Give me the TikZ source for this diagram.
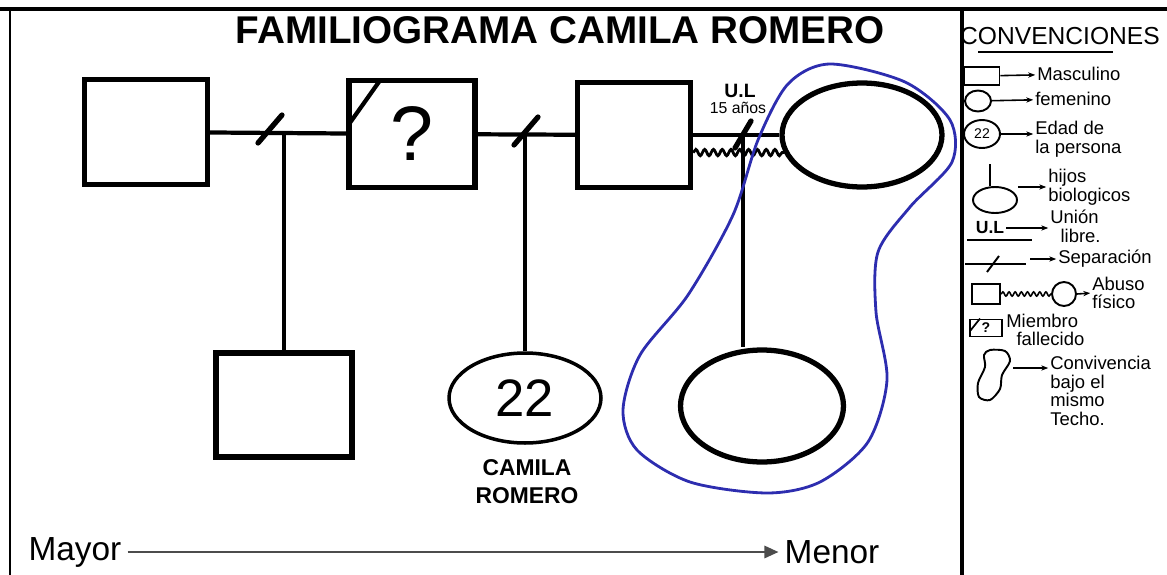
\documentclass[tikz,border=0pt]{standalone}
\usepackage{fontspec}
\setmainfont{Liberation Sans}
\usepackage{tikz}
\usetikzlibrary{arrows.meta,shapes.geometric,decorations.pathmorphing}
\definecolor{azul}{RGB}{45,45,175}

\begin{document}
\begin{tikzpicture}[x=0.02cm, y=-0.02cm,
  hombre/.style={draw, rectangle, line width=3pt, inner sep=0pt},
  mujer/.style={draw, ellipse, line width=3pt, inner sep=0pt},
  lazo/.style={line width=2.4pt},
  corte/.style={line width=3pt, line cap=round},
  abuso/.style={line width=1.6pt, decorate, decoration={snake, amplitude=1.8pt, segment length=5pt}},
  leyenda/.style={draw, line width=1.1pt, inner sep=0pt},
  flecha/.style={line width=0.9pt, -{Stealth[length=4pt]}, shorten >=1pt},
  txt/.style={inner sep=0pt, anchor=west, align=left, font=\fontsize{10.5}{10.6}\selectfont}]
\useasboundingbox (0,0) rectangle (1167,575);
%\draw [help lines, step=50](0,0) grid (1167,575);

% hoja
\draw [line width=2pt] (0,9) -- (1167,9);
\draw [line width=1pt] (10,9) -- (10,575);
\draw [line width=2.6pt] (962,9) -- (962,575);

\node [font=\bfseries\fontsize{22}{22}\selectfont] (titulo) at (560,30) {FAMILIOGRAMA CAMILA ROMERO};

% primera generacion
\node [hombre, minimum width=2.46cm, minimum height=2.1cm] (abuelo) at (146,132) {};
\node [hombre, minimum width=2.52cm, minimum height=2.14cm, font=\fontsize{44}{44}\selectfont] (fallecido) at (412,134) {?};
\node [hombre, minimum width=2.26cm, minimum height=2.1cm] (padre) at (634,135) {};
\node [mujer, minimum width=3.2cm, minimum height=2.08cm] (madre) at (862,135) {};

% hijos
\node [hombre, minimum width=2.72cm, minimum height=2.08cm] (hermano) at (284,405) {};
\node [mujer, line width=2pt, minimum width=3.04cm, minimum height=1.8cm, font=\fontsize{30}{30}\selectfont] (camila) at (525,398) {22};
\node [mujer, minimum width=3.26cm, minimum height=2.24cm] (hermana) at (762,406) {};
\node [font=\bfseries\fontsize{13}{16}\selectfont, align=center] (nombre) at (527,482) {CAMILA\\ROMERO};

% lazos
\draw [lazo] (abuelo) -- (fallecido);
\draw [lazo] (fallecido) -- (padre);
\draw [lazo] (padre) -- (madre);
\draw [lazo] ([shift={(2,-9)}]fallecido.west) -- ([shift={(34,2)}]fallecido.north west);

\coordinate (sep1) at (270,129);
\coordinate (sep2) at (526,131);
\coordinate (sep3) at (743,135);
\draw [corte] ([shift={(-12,14)}]sep1) -- ([shift={(12,-14)}]sep1);
\draw [corte] ([shift={(-12,14)}]sep2) -- ([shift={(12,-14)}]sep2);
\draw [corte] ([shift={(-8,13)}]sep3) -- ([shift={(8,-14)}]sep3);

\draw [lazo] (hermano.north) -- (hermano.north |- abuelo.east);
\draw [lazo] (camila.north) -- (camila.north |- fallecido.east);
\draw [lazo] (sep3) -- (sep3 |- hermana.north);
\draw [abuso] ([yshift=-10pt]padre.east) -- ([yshift=-10pt, xshift=3pt]padre.east -| madre.west);

\node [font=\bfseries\fontsize{11}{11}\selectfont] (ul) at (740,91) {U.L};
\node [font=\fontsize{9}{9}\selectfont] (anios) at (738,108) {15 años};

% convivencia
\draw [azul, line width=1.6pt] plot [smooth cycle] coordinates {(830,64) (905,82) (950,120) (952,162) (910,207) (878,252) (876,312) (887,380) (868,442) (820,482) (767,493) (690,482) (637,450) (623,410) (640,355) (688,295) (733,215) (758,140) (788,84)};

% orden
\node [font=\fontsize{19}{19}\selectfont] (mayor) at (75,552) {Mayor};
\node [font=\fontsize{19}{19}\selectfont] (menor) at (832,552) {Menor};
\draw [line width=1.2pt, black!70, -{Triangle[length=8pt, width=7pt]}] (mayor) -- (menor);

% convenciones
\node [font=\fontsize{14}{14}\selectfont] (conv) at (1060,36) {CONVENCIONES};
\draw [line width=0.9pt] (978,52) -- (1113,52);

\node [leyenda, minimum width=0.7cm, minimum height=0.36cm] (lmasc) at (982,76) {};
\node [txt] (tmasc) at (1037,74) {Masculino};
\draw [flecha] (lmasc) -- (tmasc);

\node [leyenda, ellipse, minimum width=0.52cm, minimum height=0.42cm] (lfem) at (978,101) {};
\node [txt] (tfem) at (1035,99) {femenino};
\draw [flecha] (lfem) -- (tfem);

\node [leyenda, ellipse, minimum width=0.72cm, minimum height=0.56cm, font=\fontsize{8}{8}\selectfont] (ledad) at (982,134) {22};
\node [txt] (tedad) at (1035,139) {Edad de\\la persona};
\draw [flecha] (ledad) -- (ledad -| tedad.west);

\node [leyenda, ellipse, minimum width=0.88cm, minimum height=0.52cm] (lhijo) at (995,200) {};
\coordinate (lhijoarriba) at (990,164);
\draw [line width=1.1pt] (lhijoarriba) -- (lhijoarriba |- lhijo.north);
\node [txt] (thijo) at (1048,187) {hijos\\biologicos};
\draw [flecha] (lhijo.east |- thijo.west) -- (thijo);

\node [font=\bfseries\fontsize{10}{10}\selectfont, inner sep=1pt] (lul) at (990,228) {U.L};
\draw [line width=0.9pt] (967,240) -- (1032,240);
\node [txt] (tul) at (1050,226) {Unión\\\ \ libre.};
\draw [flecha] (lul) -- (lul -| tul.west);

\coordinate (lsepa) at (965,264);
\coordinate (lsepb) at (1026,264);
\coordinate (lsepc) at (993,264);
\draw [line width=1.1pt] (lsepa) -- (lsepb);
\draw [line width=1.1pt] ([shift={(-6,8)}]lsepc) -- ([shift={(6,-8)}]lsepc);
\node [txt] (tsep) at (1058,259) {Separación};
\draw [flecha] ([shift={(4,-5)}]lsepb) -- (tsep);

\node [leyenda, minimum width=0.56cm, minimum height=0.4cm] (labuso) at (986,294) {};
\node [leyenda, ellipse, minimum width=0.48cm, minimum height=0.48cm] (labusada) at (1064,294) {};
\draw [line width=0.9pt, decorate, decoration={snake, amplitude=1.2pt, segment length=3.5pt}] (labuso) -- (labusada);
\node [txt] (tabuso) at (1092,293) {Abuso\\físico};
\draw [flecha] (labusada.east) -- (tabuso.west);

\node [leyenda, minimum width=0.64cm, minimum height=0.34cm, font=\bfseries\fontsize{8}{8}\selectfont] (lfall) at (986,328) {?};
\draw [line width=1pt] ([shift={(1,3)}]lfall.west) -- ([shift={(11,0)}]lfall.north west);
\node [txt] (tfall) at (1006,330) {Miembro\\\ \ fallecido};

\draw [line width=1.1pt] plot [smooth cycle] coordinates {(990,350) (1005,351) (1010,361) (1002,375) (1000,389) (990,400) (979,397) (978,383) (985,367) (984,355)};
\coordinate (lcasa) at (1013,368);
\node [txt, anchor=north west] (tcasa) at (1050,356) {Convivencia\\bajo el\\mismo\\Techo.};
\draw [flecha] (lcasa) -- (lcasa -| tcasa.west);

\end{tikzpicture}
\end{document}
